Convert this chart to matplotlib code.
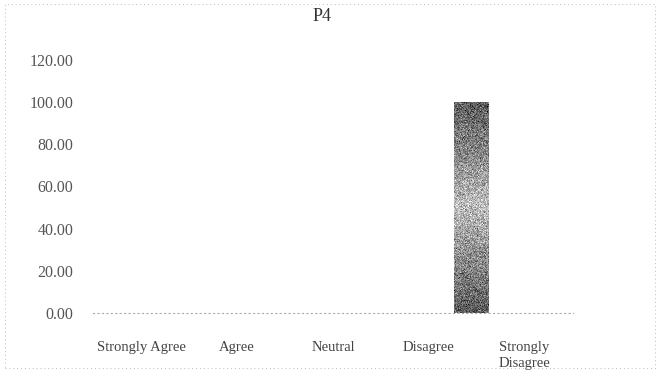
import matplotlib
matplotlib.use("Agg")
import matplotlib.pyplot as plt
import numpy as np
from matplotlib.colors import LinearSegmentedColormap

categories = ["Strongly Agree", "Agree", "Neutral", "Disagree", "Strongly\nDisagree"]
values = [0.0, 0.0, 0.0, 100.0, 0.0]
yticks = [0, 20, 40, 60, 80, 100, 120]
title = "P4"

plt.rcParams['font.family'] = ['Liberation Serif', 'DejaVu Serif']

fig = plt.figure(figsize=(6.6, 3.72), dpi=100)
ax = fig.add_axes([0.141, 0.159, 0.727, 0.68])

x = np.arange(len(categories))
offset = 0.44
width = 0.36
bars = ax.bar(x + offset, values, width=width, color='none', edgecolor='none', zorder=2)

cmap = LinearSegmentedColormap.from_list('g', ['#5e5e5e', '#8a8a8a', '#bdbdbd', '#8a8a8a', '#5a5a5a'])
grad = np.linspace(0, 1, 256).reshape(-1, 1)
rng = np.random.default_rng(0)
for b in bars:
    h = b.get_height()
    if h <= 0:
        continue
    x0 = b.get_x()
    w = b.get_width()
    img = cmap(grad)[:, :, :3]
    img = np.repeat(img, 40, axis=1)
    noise = rng.normal(0, 0.12, img.shape[:2])[:, :, None]
    img = np.clip(img + noise, 0, 1)
    ax.imshow(img, extent=(x0, x0 + w, 0, h), aspect='auto', origin='upper', zorder=2,
              interpolation='nearest')

ax.set_xlim(-0.5, len(categories) - 0.5)
ax.set_ylim(0, 120)
ax.set_yticks(yticks)
ax.set_yticklabels([f"{v:.2f}" for v in yticks], color='#555555', fontsize=11.5)
ax.set_xticks(x)
ax.set_xticklabels(categories, color='#444444', fontsize=10.5, va='top', ha='center',
                   multialignment='left', linespacing=1.3)
ax.tick_params(axis='y', length=0, pad=14)
ax.tick_params(axis='x', length=0, pad=20)

for s in ['top', 'right', 'left']:
    ax.spines[s].set_visible(False)
ax.spines['bottom'].set_color('#aaaaaa')
ax.spines['bottom'].set_linestyle((0, (1, 3)))
ax.spines['bottom'].set_linewidth(0.8)

fig.text(0.488, 0.955, title, ha='center', va='center', fontsize=13, color='#333333')

border = plt.Rectangle((0.008, 0.01), 0.985, 0.98, transform=fig.transFigure, fill=False,
                       edgecolor='#bbbbbb', linestyle=(0, (1, 3)), linewidth=0.7)
fig.patches.append(border)

fig.savefig("out.png", dpi=100)
